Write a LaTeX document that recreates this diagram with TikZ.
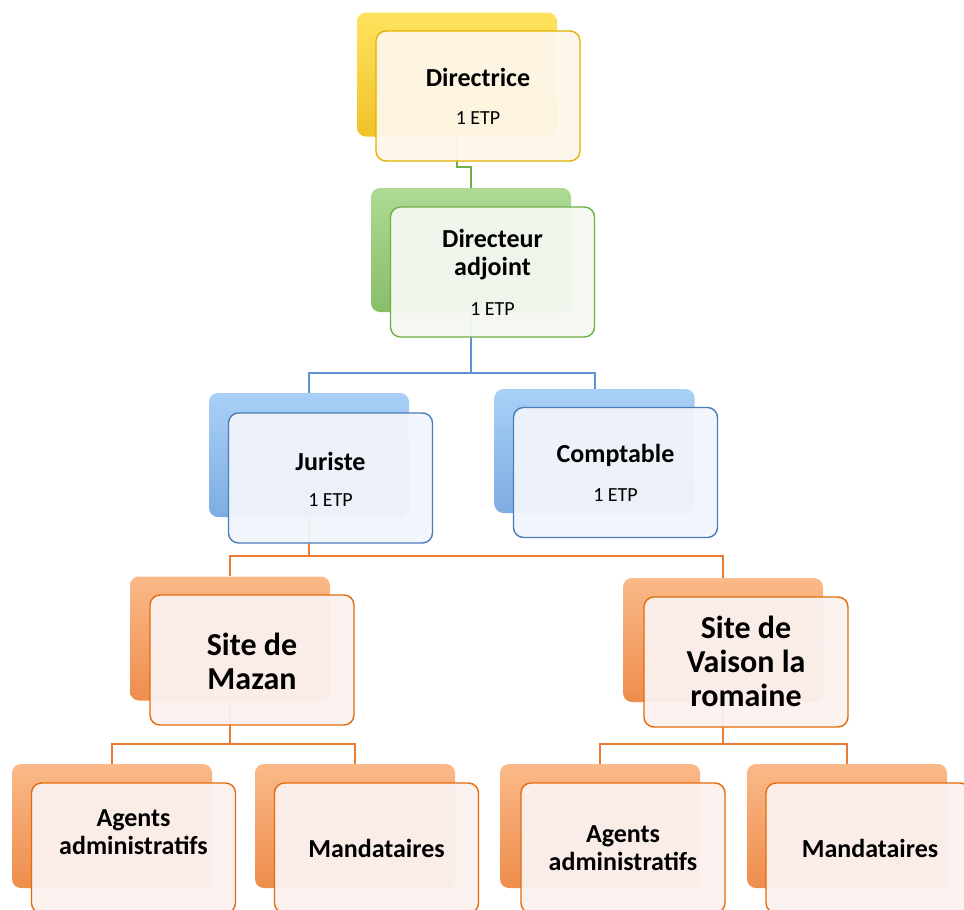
\documentclass[tikz,border=0pt]{standalone}
\usepackage{fontspec}
\setmainfont{Carlito}
\usetikzlibrary{calc}
\definecolor{yback1}{HTML}{FFE35E}
\definecolor{yback2}{HTML}{F0C22A}
\definecolor{yline}{HTML}{E2B200}
\definecolor{yfill}{HTML}{FEF7EA}
\definecolor{gback1}{HTML}{AEDA94}
\definecolor{gback2}{HTML}{88BE68}
\definecolor{gline}{HTML}{70AD47}
\definecolor{gfill}{HTML}{F4F8F1}
\definecolor{bback1}{HTML}{A9D0F7}
\definecolor{bback2}{HTML}{7EADE2}
\definecolor{bline}{HTML}{4A7EBB}
\definecolor{bconn}{HTML}{5B93D3}
\definecolor{bfill}{HTML}{F2F5FB}
\definecolor{oback1}{HTML}{FAB989}
\definecolor{oback2}{HTML}{EE8D4C}
\definecolor{oline}{HTML}{E36C0A}
\definecolor{oconn}{HTML}{EB7B32}
\definecolor{ofill}{HTML}{FBF1EF}
\newcommand{\ttlfont}{\fontsize{26}{28}\selectfont\bfseries}
\newcommand{\bigfont}{\fontsize{32}{34}\selectfont\bfseries}
\newcommand{\etpfont}{\fontsize{20}{22}\selectfont\mdseries}
\tikzset{
  backbox/.style={rounded corners=9pt, minimum width=200pt, minimum height=124pt, inner sep=0pt},
  frontbox/.style={rounded corners=10pt, minimum width=204pt, minimum height=130pt, inner sep=0pt, line width=1.4pt, fill opacity=0.95, text opacity=1, align=center, font=\ttlfont},
  yb/.style={backbox, top color=yback1, bottom color=yback2},
  gb/.style={backbox, top color=gback1, bottom color=gback2},
  bb/.style={backbox, top color=bback1, bottom color=bback2},
  ob/.style={backbox, top color=oback1, bottom color=oback2},
  yf/.style={frontbox, draw=yline, fill=yfill},
  gf/.style={frontbox, draw=gline, fill=gfill},
  bf/.style={frontbox, draw=bline, fill=bfill},
  of/.style={frontbox, draw=oline, fill=ofill},
  lbl/.style={align=center, font=\ttlfont, inner sep=0pt},
  conn/.style={line width=2pt},
}
\begin{document}
\begin{tikzpicture}[x=1pt,y=-1pt]
\useasboundingbox (0,0) rectangle (964,910);
\clip (0,0) rectangle (964,910);
\fill[white] (0,0) rectangle (964,910);
% elbow coordinates
\coordinate (e1) at (457,167);
\coordinate (e2) at (471,373);
\coordinate (e3) at (309,556);
\coordinate (e4) at (230,744);
\coordinate (e5) at (723,744);
% back boxes
\node[yb] (b1) at (457,74.5) {};
\node[gb] (b2) at (471,250) {};
\node[bb] (b3) at (309,455) {};
\node[bb] (b4) at (594.5,451) {};
\node[ob] (b5) at (230,638.5) {};
\node[ob] (b6) at (723,640) {};
\node[ob] (b7) at (112,826) {};
\node[ob] (b8) at (355,826) {};
\node[ob] (b9) at (600,826) {};
\node[ob] (b10) at (847,826) {};
% connectors
\draw[conn, gline] (b1.south) -- (e1) -| (b2.north);
\draw[conn, bconn] (b2.south) -- (e2) -| (b3.north);
\draw[conn, bconn] (e2) -| (b4.north);
\draw[conn, oconn] (b3.south) -- (e3) -| (b5.north);
\draw[conn, oconn] (e3) -| (b6.north);
\draw[conn, oconn] (b5.south) -- (e4) -| (b7.north);
\draw[conn, oconn] (e4) -| (b8.north);
\draw[conn, oconn] (b6.south) -- (e5) -| (b9.north);
\draw[conn, oconn] (e5) -| (b10.north);
% front boxes
\node[yf] (f1) at (478,96) {};
\node[gf] (f2) at (492.5,272) {};
\node[bf] (f3) at (330.5,478) {};
\node[bf] (f4) at (615.5,472.5) {};
\node[of] (f5) at (252,660) {};
\node[of] (f6) at (746,662) {};
\node[of] (f7) at (133.5,848) {};
\node[of] (f8) at (376.5,848) {};
\node[of] (f9) at (623,848) {};
\node[of] (f10) at (868,848) {};
% labels
\node[lbl] (t1) at (478,96) {Directrice\\[10pt]{\etpfont 1 ETP}};
\node[lbl] (t2) at (492.5,272) {Directeur\\adjoint\\[12pt]{\etpfont 1 ETP}};
\node[lbl] (t3) at (330.5,479) {Juriste\\[8pt]{\etpfont 1 ETP}};
\node[lbl] (t4) at (615.5,472.5) {Comptable\\[11pt]{\etpfont 1 ETP}};
\node[lbl, font=\bigfont] (t5) at (252,661) {Site de\\Mazan};
\node[lbl, font=\bigfont] (t6) at (746,661) {Site de\\Vaison la\\romaine};
\node[lbl] (t7) at (133.5,832) {Agents\\administratifs};
\node[lbl] (t8) at (376.5,848) {Mandataires};
\node[lbl] (t9) at (623,848) {Agents\\administratifs};
\node[lbl] (t10) at (870,848) {Mandataires};
\end{tikzpicture}
\end{document}
